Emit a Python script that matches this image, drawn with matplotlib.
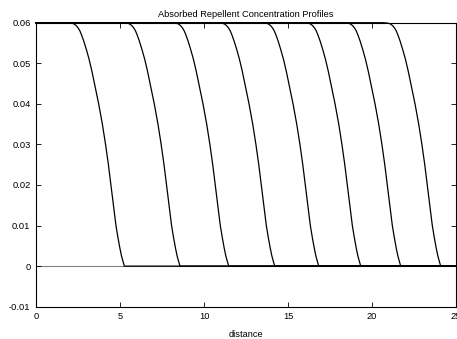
import matplotlib
matplotlib.use('Agg')
import matplotlib.pyplot as plt

# concentration levels shared by every profile
levels = [0.06, 0.0599, 0.0597, 0.0593, 0.0587, 0.058, 0.057, 0.0555, 0.0535, 0.051,
          0.048, 0.044, 0.04, 0.035, 0.03, 0.025, 0.02, 0.015, 0.01, 0.007,
          0.0045, 0.0025, 0.001, 0.0]

# distance where each profile passes through the levels above
prof1 = [1.81, 2.11, 2.26, 2.39, 2.51, 2.61, 2.71, 2.84, 2.99, 3.16, 3.33, 3.53,
         3.73, 3.95, 4.14, 4.31, 4.46, 4.61, 4.76, 4.88, 4.99, 5.09, 5.19, 5.26]
prof2 = [5.12, 5.42, 5.57, 5.70, 5.82, 5.92, 6.02, 6.15, 6.30, 6.47, 6.64, 6.84,
         7.04, 7.26, 7.45, 7.62, 7.77, 7.92, 8.07, 8.19, 8.30, 8.40, 8.50, 8.57]
prof3 = [8.02, 8.32, 8.47, 8.60, 8.72, 8.82, 8.92, 9.05, 9.20, 9.37, 9.54, 9.74,
         9.94, 10.16, 10.35, 10.52, 10.67, 10.82, 10.97, 11.09, 11.20, 11.30, 11.40, 11.47]
prof4 = [10.76, 11.06, 11.21, 11.34, 11.46, 11.56, 11.66, 11.79, 11.94, 12.11, 12.28, 12.48,
         12.68, 12.90, 13.09, 13.26, 13.41, 13.56, 13.71, 13.83, 13.94, 14.04, 14.14, 14.21]
prof5 = [13.38, 13.68, 13.83, 13.96, 14.08, 14.18, 14.28, 14.41, 14.56, 14.73, 14.90, 15.10,
         15.30, 15.52, 15.71, 15.88, 16.03, 16.18, 16.33, 16.45, 16.56, 16.66, 16.76, 16.83]
prof6 = [15.88, 16.18, 16.33, 16.46, 16.58, 16.68, 16.78, 16.91, 17.06, 17.23, 17.40, 17.60,
         17.80, 18.02, 18.21, 18.38, 18.53, 18.68, 18.83, 18.95, 19.06, 19.16, 19.26, 19.33]
prof7 = [18.26, 18.56, 18.71, 18.84, 18.96, 19.06, 19.16, 19.29, 19.44, 19.61, 19.78, 19.98,
         20.18, 20.40, 20.59, 20.76, 20.91, 21.06, 21.21, 21.33, 21.44, 21.54, 21.64, 21.71]
prof8 = [20.64, 20.94, 21.09, 21.22, 21.34, 21.44, 21.54, 21.67, 21.82, 21.99, 22.16, 22.36,
         22.56, 22.78, 22.97, 23.14, 23.29, 23.44, 23.59, 23.71, 23.82, 23.92, 24.02, 24.09]
profiles = [prof1, prof2, prof3, prof4, prof5, prof6, prof7, prof8]

x_min, x_max = 0, 25
xticks = [0, 5, 10, 15, 20, 25]
yticks = [-0.01, 0, 0.01, 0.02, 0.03, 0.04, 0.05, 0.06]
ytick_labels = ['-0.01', '0', '0.01', '0.02', '0.03', '0.04', '0.05', '0.06']

plt.rcParams['font.family'] = ['Liberation Sans', 'DejaVu Sans']
plt.rcParams['font.size'] = 6.7

fig = plt.figure(figsize=(4.57, 3.39), dpi=100)
ax = fig.add_axes([36 / 457, 1 - 306.7 / 339, 420 / 457, (306.7 - 22.7) / 339])

# zero axis
ax.axhline(0, color='#808080', lw=0.8, zorder=1)

for xs in profiles:
    ax.plot([x_min] + xs + [x_max], [levels[0]] + levels + [levels[-1]],
            color='black', lw=0.9, clip_on=False, zorder=3)

ax.set_xlim(x_min, x_max)
ax.set_ylim(-0.01, 0.06)
ax.set_xticks(xticks)
ax.set_xticklabels([str(t) for t in xticks])
ax.set_yticks(yticks)
ax.set_yticklabels(ytick_labels)
ax.tick_params(direction='in', top=True, right=True, length=3.5, width=0.6, pad=4)

for s in ax.spines.values():
    s.set_linewidth(0.8)

ax.set_title('Absorbed Repellent Concentration Profiles', fontsize=6.7, pad=4)
ax.set_xlabel('distance', labelpad=6.5)

fig.savefig('out.png', dpi=100)
